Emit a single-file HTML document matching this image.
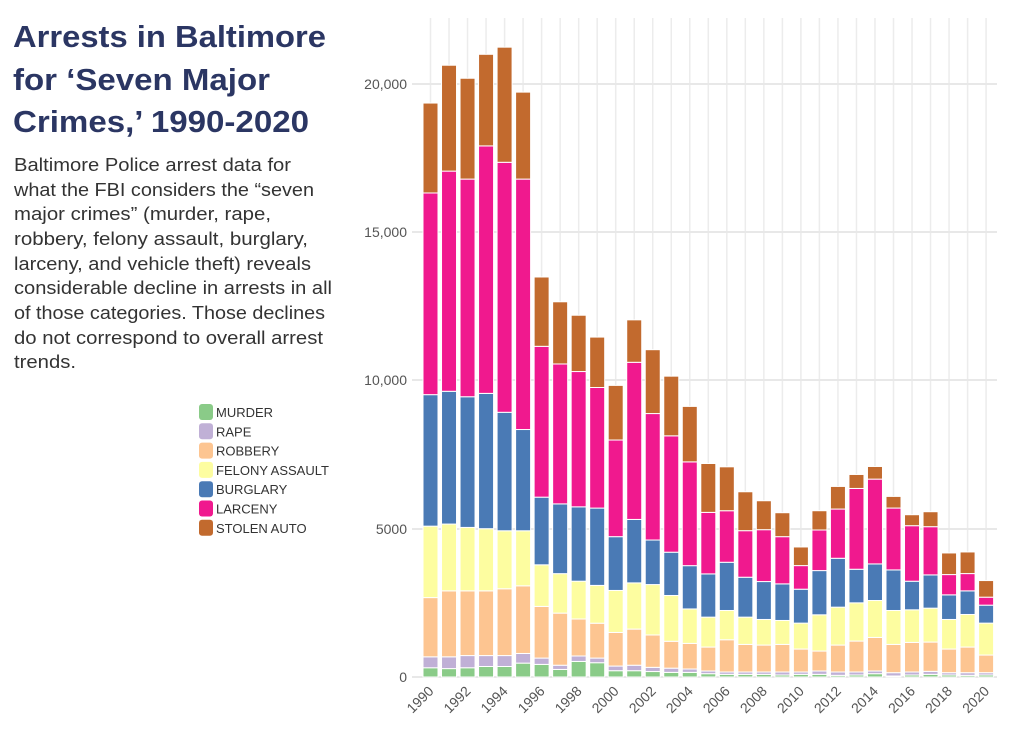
<!DOCTYPE html>
<html><head><meta charset="utf-8"><style>
html,body{margin:0;padding:0;background:#fff;width:1024px;height:736px;overflow:hidden}
svg{display:block}
text{font-family:"Liberation Sans",sans-serif}
</style></head><body>
<svg id="s" width="1024" height="736" viewBox="0 0 1024 736" xmlns="http://www.w3.org/2000/svg">
<g fill="#2b3663" font-weight="bold" font-size="31">
<text x="13" y="47" textLength="313" lengthAdjust="spacingAndGlyphs">Arrests in Baltimore</text>
<text x="13" y="90" textLength="257" lengthAdjust="spacingAndGlyphs">for ‘Seven Major</text>
<text x="13" y="132" textLength="296" lengthAdjust="spacingAndGlyphs">Crimes,’ 1990-2020</text>
</g>
<g fill="#333" font-size="18">
<text x="14" y="171" textLength="277" lengthAdjust="spacingAndGlyphs">Baltimore Police arrest data for</text>
<text x="14" y="196" textLength="300" lengthAdjust="spacingAndGlyphs">what the FBI considers the “seven</text>
<text x="14" y="220" textLength="257" lengthAdjust="spacingAndGlyphs">major crimes” (murder, rape,</text>
<text x="14" y="245" textLength="294" lengthAdjust="spacingAndGlyphs">robbery, felony assault, burglary,</text>
<text x="14" y="270" textLength="297" lengthAdjust="spacingAndGlyphs">larceny, and vehicle theft) reveals</text>
<text x="14" y="294" textLength="318" lengthAdjust="spacingAndGlyphs">considerable decline in arrests in all</text>
<text x="14" y="319" textLength="311" lengthAdjust="spacingAndGlyphs">of those categories. Those declines</text>
<text x="14" y="344" textLength="309" lengthAdjust="spacingAndGlyphs">do not correspond to overall arrest</text>
<text x="14" y="368" textLength="62" lengthAdjust="spacingAndGlyphs">trends.</text>
</g>
<g id="leg" font-size="13" fill="#333"></g>
<g id="grid"></g>
<g id="bars"></g>
<g id="lab" fill="#555" font-size="14"></g>
</svg>
<script>
var NS="http://www.w3.org/2000/svg";
function el(p,t,a,txt){var e=document.createElementNS(NS,t);for(var k in a)e.setAttribute(k,a[k]);if(txt!=null)e.textContent=txt;document.getElementById(p).appendChild(e);return e;}
var cols=["#8acb88","#c0b0d6","#fdc591","#fdfda0","#4a7ab5","#f0198e","#c26a2e"];
var names=["MURDER","RAPE","ROBBERY","FELONY ASSAULT","BURGLARY","LARCENY","STOLEN AUTO"];
for(var i=0;i<7;i++){var y=404+i*19.3;el("leg","rect",{x:199,y:y,width:14,height:16,rx:3,fill:cols[i]});el("leg","text",{x:216,y:y+13},names[i]);}
// grid
var x0=430.5,dx=18.52;
for(var i=0;i<31;i++){var cx=x0+i*dx;el("grid","line",{x1:cx,x2:cx,y1:18,y2:677,stroke:"#ececec","stroke-width":1.5});}
var gy=[[677,"0"],[529,"5000"],[380,"10,000"],[232,"15,000"],[84,"20,000"]];
gy.forEach(function(g){el("grid","line",{x1:412,x2:997,y1:g[0],y2:g[0],stroke:"#e8e8e8","stroke-width":2});el("lab","text",{x:407,y:g[0]+5,"text-anchor":"end"},g[1]);});
var z1=[[1515,1489,1348,1178,865,385,171],[1517,1489,1332,1173,857,333,81],[1515,1486,1332,1181,870,352,112],[1512,1486,1332,1184,862,273,55],[1512,1486,1327,1189,907,312,38],[1504,1481,1320,1189,948,352,145],[1507,1492,1369,1270,1109,750,585],[1519,1509,1385,1291,1125,792,644],[1500,1487,1399,1309,1132,810,676],[1503,1492,1409,1319,1135,848,728],[1522,1511,1431,1331,1203,973,843],[1522,1509,1423,1313,1162,788,687],[1524,1514,1437,1317,1211,910,758],[1526,1516,1452,1343,1240,963,821],[1526,1518,1457,1375,1272,1025,893]];
var z2=[[1120,1112,1040,950,820,635,488],[1122,1115,1018,930,785,630,498],[1122,1115,1032,950,830,690,573],[1122,1115,1034,957,843,687,600],[1124,1115,1032,960,850,708,636],[1122,1115,1046,968,866,795,739],[1122,1112,1052,943,810,688,630],[1125,1115,1034,920,773,625,557],[1124,1115,1022,907,806,563,521],[1120,1112,1011,900,790,535,497],[1127,1117,1032,930,808,622,587],[1124,1115,1026,928,842,675,642],[1122,1113,1025,923,823,678,633],[1124,1117,1046,957,883,822,757],[1125,1117,1040,942,871,819,754],[1124,1117,1064,968,914,890,840]];
var ys=[];
z1.forEach(function(r){ys.push(r.map(function(v){return 677-(1537-v)/2.38;}));});
z2.forEach(function(r){ys.push(r.map(function(v){return 677-(1130-v)/3.007;}));});
ys.forEach(function(r,i){var cx=x0+i*dx;var prev=677;for(var k=0;k<7;k++){var t=r[k];if(prev-t>0.3)el("bars","rect",{x:cx-7.5,y:t,width:15,height:prev-t,fill:cols[k],stroke:"#fff","stroke-width":1});prev=t;}
if(i%2==0){var yr=1990+i;el("lab","text",{x:cx+4,y:692,"text-anchor":"end",transform:"rotate(-45 "+(cx+4)+" 692)"},String(yr));}});
</script>
</body></html>
